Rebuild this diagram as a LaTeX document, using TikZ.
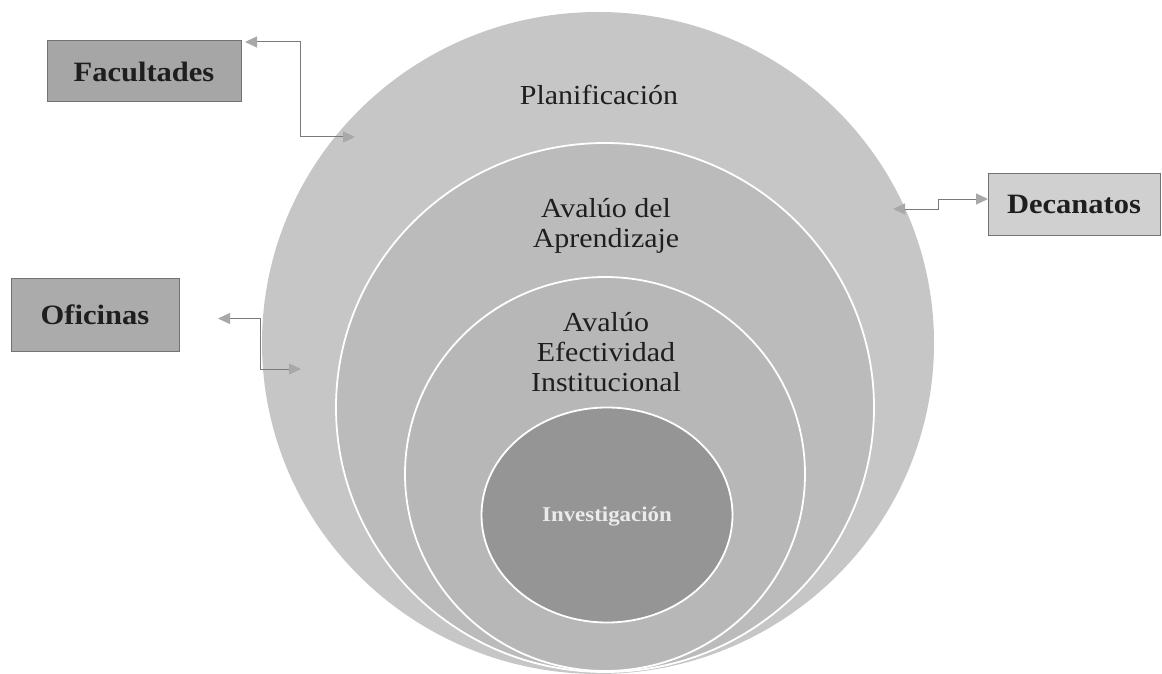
\documentclass[tikz,border=0pt]{standalone}
\usepackage{fontspec}
\setmainfont{Liberation Serif}
\newfontfamily\wideserif[FakeStretch=1.09]{Liberation Serif}
\usetikzlibrary{shapes.geometric,arrows.meta}
\definecolor{outerc}{HTML}{C6C6C6}
\definecolor{secondc}{HTML}{BBBBBB}
\definecolor{thirdc}{HTML}{B7B7B7}
\definecolor{innerc}{HTML}{959595}
\definecolor{facc}{HTML}{A6A6A6}
\definecolor{ofic}{HTML}{ABABAB}
\definecolor{decc}{HTML}{D0D0D0}
\definecolor{txtc}{HTML}{1E1E1E}
\definecolor{linec}{HTML}{7A7A7A}
\definecolor{tipc}{HTML}{A8A8A8}
\tikzset{
  ring/.style={ellipse, inner sep=0pt, outer sep=0pt},
  wring/.style={ring, draw=white, line width=1.8pt},
  lbl/.style={font=\wideserif\fontsize{27.5}{30}\selectfont, text=txtc, align=center, inner sep=0pt},
  boxsty/.style={draw=black!55, line width=1pt, outer sep=0pt, inner sep=0pt,
     font=\wideserif\bfseries\fontsize{28}{30}\selectfont, text=txtc},
  conn/.style={draw=linec, line width=1pt,
     {Triangle[length=12pt,width=11pt,color=tipc]}-{Triangle[length=12pt,width=11pt,color=tipc]}}
}
\begin{document}
\begin{tikzpicture}[x=1pt,y=-1pt]
\useasboundingbox (0,0) rectangle (1162,674);
% nested ellipses
\node[ring, fill=outerc, minimum width=672pt, minimum height=662pt] (outer) at (598,343) {};
\node[wring, fill=secondc, minimum width=538pt, minimum height=529pt] (second) at (605,407.5) {};
\node[wring, fill=thirdc, minimum width=400pt, minimum height=394pt] (third) at (605,474) {};
\node[wring, fill=innerc, minimum width=251pt, minimum height=215pt] (inner) at (607,515) {};
% labels
\node[lbl] (plan) at (599,95) {Planificación};
\node[lbl] (apren) at (606,226) {Avalúo del\\Aprendizaje};
\node[lbl] (efect) at (606,352) {Avalúo\\Efectividad\\Institucional};
\node[font=\wideserif\bfseries\fontsize{21}{23}\selectfont, text=white!92!black, inner sep=0pt] (invest) at (607,517) {Investigación};
% side boxes
\node[boxsty, fill=facc, minimum width=194pt, minimum height=61pt] (fac) at (144,71.5) {Facultades};
\node[boxsty, fill=ofic, minimum width=168pt, minimum height=73pt] (ofi) at (95,314.5) {Oficinas};
\node[boxsty, fill=decc, minimum width=172pt, minimum height=62pt] (dec) at (1074,204) {Decanatos};
% connector end points
\coordinate (facA) at ([xshift=4pt,yshift=-1pt]fac.north east);
\coordinate (facB) at (355,137);
\coordinate (ofiA) at ([xshift=39pt,yshift=-4pt]ofi.east);
\coordinate (ofiB) at (301,369);
\coordinate (decA) at (893,209);
\coordinate (decB) at ([yshift=5pt]dec.west);
% connectors
\draw[conn] (facA) -- ++(55,0) |- (facB);
\draw[conn] (ofiA) -- ++(42,0) |- (ofiB);
\draw[conn] (decA) -- ++(45,0) |- (decB);
\end{tikzpicture}
\end{document}
